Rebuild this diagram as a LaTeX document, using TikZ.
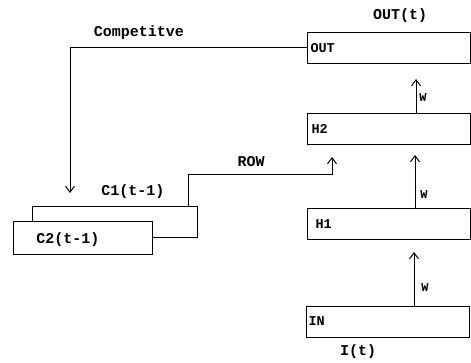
\documentclass[tikz,border=0pt]{standalone}
\usepackage{fontspec}
\setmainfont{Liberation Serif}
\setmonofont{Liberation Mono}
\usepackage{tikz}
\usetikzlibrary{calc, positioning, arrows.meta}

\begin{document}
\begin{tikzpicture}[
  x=1pt, y=-1pt,
  line width=1pt,
  layer/.style={draw, minimum width=163pt, minimum height=31pt, inner sep=0pt},
  ctx/.style={draw, fill=white, inner sep=0pt},
  lbl/.style={font=\ttfamily\bfseries\fontsize{15}{15}\selectfont, inner sep=0pt},
  boxlbl/.style={font=\ttfamily\bfseries\fontsize{13.5}{13.5}\selectfont, inner sep=0pt, anchor=west},
  wlbl/.style={font=\ttfamily\bfseries\fontsize{12}{12}\selectfont, inner sep=0pt},
  chev/.style={-{Straight Barb[length=6pt, width=9pt, line width=1pt]}},
]
\useasboundingbox (0,0) rectangle (471,363);

% Column: layers
\node[layer] (out) at (388.5,48) {};
\node[boxlbl] (outtxt) at (310,48) {OUT};
\node[lbl] (outt) at (400,16) {OUT(t)};

\node[layer] (h2) at (388.5,129) {};
\node[boxlbl] (h2txt) at (311,129) {H2};

\node[layer] (h1) at (388.5,224) {};
\node[boxlbl] (h1txt) at (315,224) {H1};

\node[layer] (in) at (388,321.5) {};
\node[boxlbl] (intxt) at (308,321.5) {IN};
\node[lbl] (it) at (358,352) {I(t)};

% Context units
\node[ctx, minimum width=165pt, minimum height=31pt] (c1) at (114.5,222.5) {};
\node[ctx, minimum width=139pt, minimum height=33pt] (c2) at (82.5,238.5) {};
\node[lbl] (c2txt) at (68,240) {C2(t-1)};
\node[lbl] (c1txt) at (133,192) {C1(t-1)};

% Weights
\coordinate (w3tip) at (416,79);
\coordinate (w2tip) at (415,155);
\coordinate (w1tip) at (414,252);
\draw[chev] (h2.north -| w3tip) -- (w3tip);
\draw[chev] (h1.north -| w2tip) -- (w2tip);
\draw[chev] (in.north -| w1tip) -- (w1tip);
\node[wlbl] (w3) at (423,98) {W};
\node[wlbl] (w2) at (424,195) {W};
\node[wlbl] (w1) at (425,288) {W};

% Competitve feedback
\coordinate (ctip) at (70,193);
\draw[chev] (out.west) -| (ctip);
\node[lbl] (comp) at (139,33) {Competitve};

% ROW link
\coordinate (rowknee) at (332,175);
\coordinate (rowtip) at (332,157);
\draw[chev] ([xshift=-9pt]c1.north east) |- (rowknee) -- (rowtip);
\node[lbl] (row) at (251,162) {ROW};

\end{tikzpicture}
\end{document}
